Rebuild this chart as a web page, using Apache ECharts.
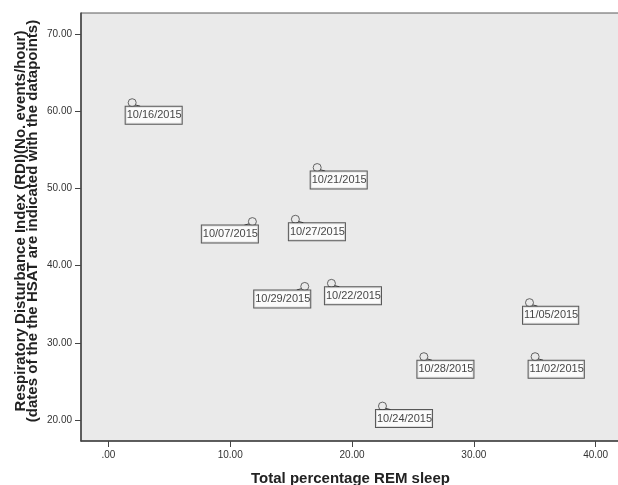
<!DOCTYPE html>
<html><head><meta charset="utf-8">
<script src="https://cdn.jsdelivr.net/npm/echarts@6/dist/echarts.min.js"></script>
<style>html,body{margin:0;padding:0;background:#fff}#c{width:618px;height:485px}</style>
</head><body><div id="c"></div>
<script>
const dates = ['10/16/2015','10/21/2015','10/07/2015','10/27/2015','10/29/2015','10/22/2015','11/05/2015','10/28/2015','11/02/2015','10/24/2015'];
const remPct = [1.95, 17.14, 11.82, 15.35, 16.12, 18.31, 34.57, 25.90, 35.03, 22.50];
const rdi = [61.1, 52.7, 45.7, 46.0, 37.3, 37.7, 35.2, 28.2, 28.2, 21.8];
const xTicks = [0, 10, 20, 30, 40];
const yTicks = [20, 30, 40, 50, 60, 70];
const leftSide = ['10/07/2015', '10/29/2015'];

const fmt = v => v === 0 ? '.00' : v.toFixed(2);
const font = 'Liberation Sans, Arial, sans-serif';

const points = dates.map((d, i) => {
  const left = leftSide.includes(d);
  return {
    name: d,
    value: [remPct[i], rdi[i]],
    label: left ? { position: [10, 8.5], align: 'right' } : { position: [-2, 8.5], align: 'left' }
  };
});

const chart = echarts.init(document.getElementById('c'), null, { renderer: 'canvas' });
chart.setOption({
  animation: false,
  backgroundColor: '#ffffff',
  grid: { left: 81, top: 13, right: -2, bottom: 44, containLabel: false, outerBoundsMode: 'none',
          show: true, backgroundColor: '#eaeaea', borderColor: '#5a5a5a', borderWidth: 1 },
  xAxis: {
    type: 'value', min: -2.25, max: 42.0,
    name: 'Total percentage REM sleep', nameLocation: 'middle', nameGap: 30, nameMoveOverlap: false,
    nameTextStyle: { fontFamily: font, fontWeight: 'bold', fontSize: 15, color: '#222' },
    splitLine: { show: false },
    axisLine: { show: true, onZero: false, lineStyle: { color: '#444', width: 1.5 } },
    axisTick: { show: true, inside: false, length: 6, lineStyle: { color: '#444' }, customValues: xTicks },
    axisLabel: { fontFamily: font, fontSize: 10, color: '#333', margin: 9, formatter: fmt, customValues: xTicks }
  },
  yAxis: {
    type: 'value', min: 17.28, max: 72.72,
    name: 'Respiratory Disturbance Index (RDI)(No. events/hour)\n(dates of the the HSAT are indicated with the datapoints)',
    nameLocation: 'middle', nameGap: 41.5, nameRotate: 90, nameMoveOverlap: false,
    nameTextStyle: { fontFamily: font, fontWeight: 'bold', fontSize: 15, color: '#222', lineHeight: 12.5, align: 'center', padding: [0, 0, 0, 12] },
    splitLine: { show: false },
    axisLine: { show: true, onZero: false, lineStyle: { color: '#444', width: 1.5 } },
    axisTick: { show: true, inside: false, length: 6, lineStyle: { color: '#444' }, customValues: yTicks },
    axisLabel: { fontFamily: font, fontSize: 10, color: '#333', margin: 9, formatter: fmt, customValues: yTicks }
  },
  series: [
    {
      type: 'custom',
      silent: true,
      z: 3,
      data: dates.map((d, i) => [remPct[i], rdi[i], leftSide.includes(d) ? -1 : 1]),
      renderItem: (params, api) => {
        const p = api.coord([api.value(0), api.value(1)]);
        const s = api.value(2);
        return {
          type: 'polyline',
          shape: { points: [[p[0] + s * 2.5, p[1] + 2], [p[0] + s * 8, p[1] + 3.5]] },
          style: { stroke: '#444', lineWidth: 1, fill: null }
        };
      }
    },
    {
      type: 'scatter',
      z: 4,
      symbol: 'circle',
      symbolSize: 8,
      itemStyle: { color: '#eaeaea', borderColor: '#444', borderWidth: 1 },
      label: {
        show: true,
        formatter: p => p.name,
        fontFamily: font, fontSize: 11, color: '#111',
        backgroundColor: '#fff', borderColor: '#333', borderWidth: 1,
        padding: [2, 0, 2, 1], lineHeight: 13, verticalAlign: 'top'
      },
      data: points
    }
  ]
});
</script></body></html>
